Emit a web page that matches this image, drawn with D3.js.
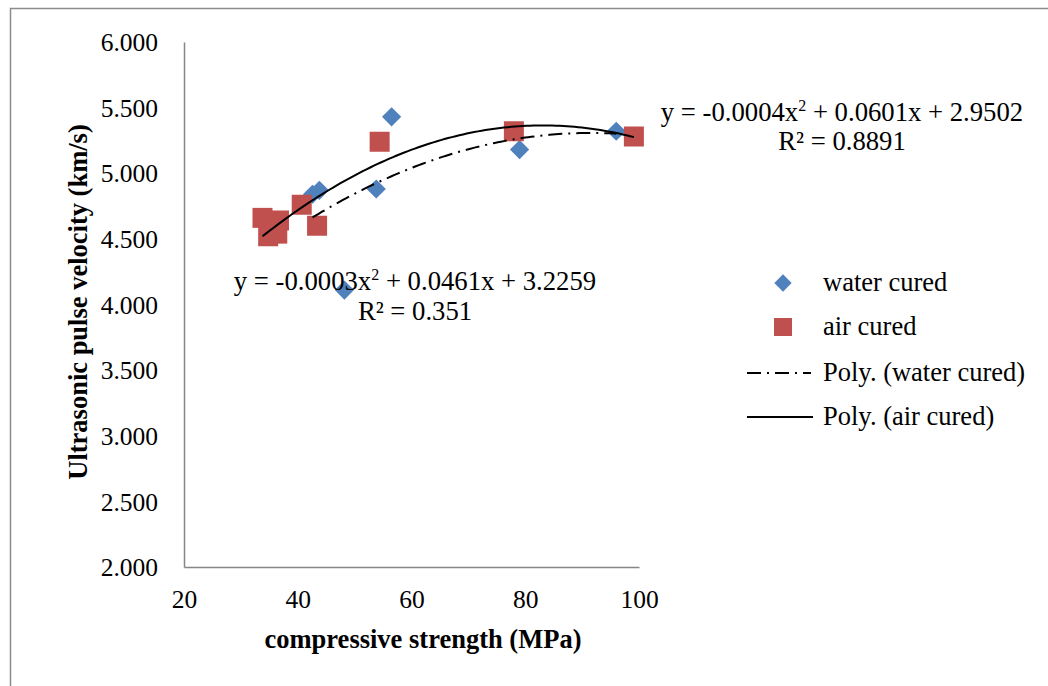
<!DOCTYPE html>
<html>
<head>
<meta charset="utf-8">
<script src="https://cdn.jsdelivr.net/npm/d3@7"></script>
<style>
  body { margin: 0; background: #fff; }
  svg text { font-family: "Liberation Serif", "Times New Roman", serif; fill: #000; }
</style>
</head>
<body>
<svg id="chart" width="1048" height="686"></svg>
<script>
// water cured samples (compressive strength MPa, UPV km/s)
const waterX = [42.6, 43.8, 48.2, 53.8, 56.5, 79.0, 96.0];
const waterY = [4.84, 4.87, 4.11, 4.88, 5.43, 5.18, 5.32];
// air cured samples
const airX = [33.8, 36.7, 34.8, 36.4, 40.7, 43.4, 54.4, 78.0, 99.1];
const airY = [4.66, 4.64, 4.52, 4.54, 4.76, 4.60, 5.24, 5.32, 5.28];

const xTicks = [20, 40, 60, 80, 100];
const yTicks = [2, 2.5, 3, 3.5, 4, 4.5, 5, 5.5, 6];
const seriesNames = ["water cured", "air cured", "Poly. (water cured)", "Poly. (air cured)"];
const waterEq = ["y = -0.0003x", " + 0.0461x + 3.2259", "R² = 0.351"];
const airEq = ["y = -0.0004x", " + 0.0601x + 2.9502", "R² = 0.8891"];

const blue = "#4f81bd", red = "#c0504d", axisGray = "#868686";

const svg = d3.select("#chart");

// outer frame
svg.append("rect")
    .attr("x", 10.5).attr("y", 8.5)
    .attr("width", 1100).attr("height", 800)
    .attr("fill", "none").attr("stroke", "#8c8c8c").attr("stroke-width", 1.5);

const x = d3.scaleLinear().domain([20, 100]).range([184, 639]);
const y = d3.scaleLinear().domain([2, 6]).range([567, 42]);

// axes
const xAxis = d3.axisBottom(x).tickValues(xTicks).tickSize(0).tickPadding(0).tickFormat(d3.format("d"));
const gX = svg.append("g").attr("transform", "translate(0," + y(2) + ")").call(xAxis);
gX.select(".domain").attr("stroke", axisGray).attr("stroke-width", 1.5);
gX.selectAll("text").attr("y", 41).attr("dy", null).style("font-size", "25.5px");

const yAxis = d3.axisLeft(y).tickValues(yTicks).tickSize(0).tickFormat(d3.format(".3f"));
const gY = svg.append("g").attr("transform", "translate(" + x(20) + ",0)").call(yAxis);
gY.select(".domain").attr("stroke", axisGray).attr("stroke-width", 1.5);
gY.selectAll("text").attr("x", -26).attr("dy", "0.34em").style("font-size", "25.5px");
svg.selectAll(".tick text").attr("fill", "#000").style("font-family", "'Liberation Serif', serif");

// axis titles
svg.append("text")
    .attr("x", 423).attr("y", 648)
    .attr("text-anchor", "middle")
    .style("font-size", "26.5px").style("font-weight", "bold")
    .text("compressive strength (MPa)");
svg.append("text")
    .attr("transform", "translate(87,302) rotate(-90)")
    .attr("text-anchor", "middle")
    .style("font-size", "26.5px").style("font-weight", "bold")
    .text("Ultrasonic pulse velocity (km/s)");

// quadratic least squares fit
function quadFit(xs, ys) {
  const n = xs.length;
  let s = [0, 0, 0, 0, 0], t = [0, 0, 0];
  for (let i = 0; i < n; i++) {
    const xi = xs[i];
    for (let k = 0; k < 5; k++) s[k] += Math.pow(xi, k);
    for (let k = 0; k < 3; k++) t[k] += ys[i] * Math.pow(xi, k);
  }
  const A = [[s[0], s[1], s[2], t[0]], [s[1], s[2], s[3], t[1]], [s[2], s[3], s[4], t[2]]];
  for (let i = 0; i < 3; i++) {
    let p = i;
    for (let r = i + 1; r < 3; r++) if (Math.abs(A[r][i]) > Math.abs(A[p][i])) p = r;
    [A[i], A[p]] = [A[p], A[i]];
    for (let r = 0; r < 3; r++) {
      if (r === i) continue;
      const f = A[r][i] / A[i][i];
      for (let c = i; c < 4; c++) A[r][c] -= f * A[i][c];
    }
  }
  const c0 = A[0][3] / A[0][0], c1 = A[1][3] / A[1][1], c2 = A[2][3] / A[2][2];
  return v => c0 + c1 * v + c2 * v * v;
}

function trendPts(xs, ys) {
  const f = quadFit(xs, ys);
  const lo = d3.min(xs), hi = d3.max(xs);
  return d3.range(0, 101).map(i => { const v = lo + (hi - lo) * i / 100; return [v, f(v)]; });
}

const line = d3.line().x(d => x(d[0])).y(d => y(d[1]));

// markers
const diamond = d3.symbol().type(d3.symbolSquare).size(185);
svg.append("g").selectAll("path")
    .data(d3.zip(waterX, waterY))
    .join("path")
    .attr("d", diamond)
    .attr("transform", d => "translate(" + x(d[0]) + "," + y(d[1]) + ") rotate(45)")
    .attr("fill", blue);

svg.append("g").selectAll("rect")
    .data(d3.zip(airX, airY))
    .join("rect")
    .attr("x", d => x(d[0]) - 10).attr("y", d => y(d[1]) - 10)
    .attr("width", 20).attr("height", 20)
    .attr("fill", red);

// trendlines
svg.append("path")
    .datum(trendPts(waterX, waterY))
    .attr("d", line)
    .attr("fill", "none").attr("stroke", "#000").attr("stroke-width", 2)
    .attr("stroke-dasharray", "14,6,2,6");
svg.append("path")
    .datum(trendPts(airX, airY))
    .attr("d", line)
    .attr("fill", "none").attr("stroke", "#000").attr("stroke-width", 2);

// equation labels
function eqLabel(lines, cx, y1, y2) {
  const t = svg.append("text").attr("x", cx).attr("y", y1)
      .attr("text-anchor", "middle").style("font-size", "26.7px");
  t.append("tspan").text(lines[0]);
  t.append("tspan").attr("dy", -10).style("font-size", "16px").text("2");
  t.append("tspan").attr("dy", 10).text(lines[1]);
  svg.append("text").attr("x", cx).attr("y", y2)
      .attr("text-anchor", "middle").style("font-size", "26.7px").text(lines[2]);
}
eqLabel(waterEq, 415, 290, 320);
eqLabel(airEq, 842, 121, 150);

// legend
const leg = svg.append("g");
const legY = [283, 327, 373, 417];
leg.append("path")
    .attr("d", d3.symbol().type(d3.symbolSquare).size(150))
    .attr("transform", "translate(783," + legY[0] + ") rotate(45)")
    .attr("fill", blue);
leg.append("rect")
    .attr("x", 774).attr("y", legY[1] - 9).attr("width", 18).attr("height", 18)
    .attr("fill", red);
leg.append("line")
    .attr("x1", 747).attr("x2", 811).attr("y1", legY[2]).attr("y2", legY[2])
    .attr("stroke", "#000").attr("stroke-width", 2).attr("stroke-dasharray", "14,6,2,6");
leg.append("line")
    .attr("x1", 747).attr("x2", 813).attr("y1", legY[3]).attr("y2", legY[3])
    .attr("stroke", "#000").attr("stroke-width", 2);
leg.selectAll("text")
    .data(seriesNames)
    .join("text")
    .attr("x", 823)
    .attr("y", (d, i) => legY[i] + 8)
    .style("font-size", "26.5px")
    .text(d => d);
</script>
</body>
</html>
